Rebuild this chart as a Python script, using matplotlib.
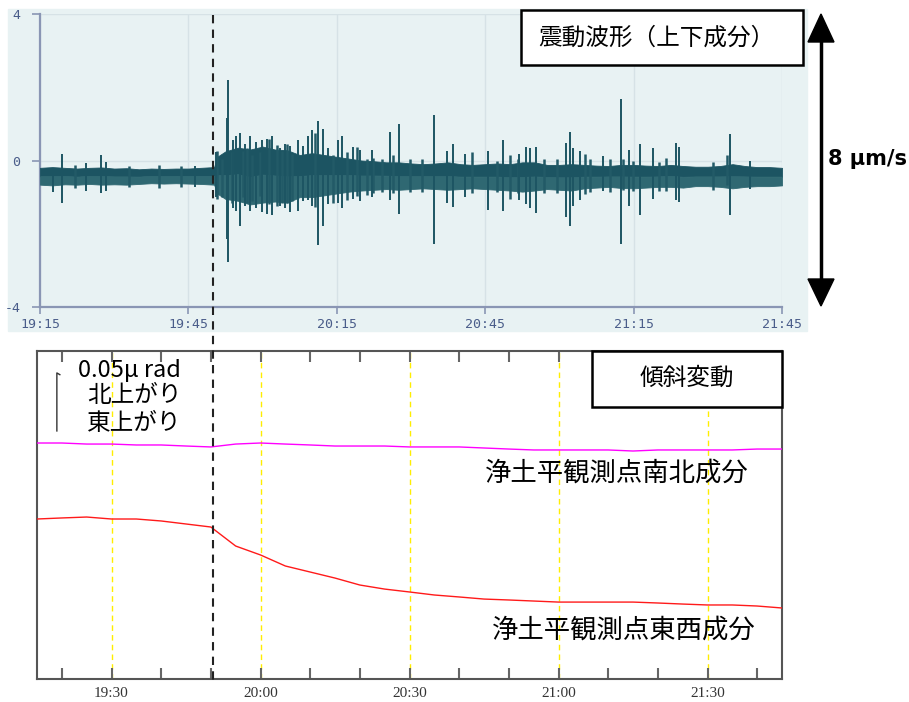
import numpy as np
import matplotlib
matplotlib.use("Agg")
import matplotlib.pyplot as plt
import matplotlib.transforms as mtransforms
from matplotlib.patches import Rectangle, Polygon
from matplotlib.lines import Line2D

plt.rcParams['font.family'] = ['Noto Sans CJK JP', 'DejaVu Sans']

# --- seismic waveform (vertical component), minutes after 19:15, units of um/s ---
wave_t = [0, 2.5, 5, 7.5, 10, 12.5, 15, 17.5, 20, 22.5, 25, 27.5, 30, 32.5, 35.2,
          35.8, 37.5, 40, 42.5, 45, 47.5, 50, 52.5, 55, 57.5, 60, 62.5, 65, 67.5,
          70, 72.5, 75, 77.5, 80, 82.5, 85, 87.5, 90, 92.5, 95, 97.5, 100, 102.5,
          105, 107.5, 110, 112.5, 115, 117.5, 120, 122.5, 125, 127.5, 130, 132.5,
          135, 137.5, 140, 142.5, 145, 147.5, 150]
wave_upper = [-0.20, -0.18, -0.20, -0.22, -0.20, -0.19, -0.22, -0.21, -0.24, -0.22,
              -0.23, -0.22, -0.22, -0.20, -0.18,
              0.10, 0.25, 0.35, 0.30, 0.38, 0.30, 0.28, 0.15, 0.20, 0.15, 0.10,
              0.05, 0.00, -0.02, -0.05, -0.05, -0.08, -0.10, -0.08, -0.05, -0.10,
              -0.12, -0.10, -0.08, -0.10, -0.05, -0.05, -0.12, -0.12, -0.10, -0.12,
              -0.14, -0.15, -0.12, -0.12, -0.14, -0.15, -0.12, -0.15, -0.17, -0.17,
              -0.15, -0.10, -0.15, -0.18, -0.18, -0.20]
wave_lower = [-0.66, -0.68, -0.65, -0.66, -0.64, -0.66, -0.65, -0.66, -0.64, -0.62,
              -0.63, -0.62, -0.63, -0.64, -0.66,
              -0.90, -1.05, -1.10, -1.20, -1.15, -1.12, -1.15, -1.00, -1.00, -0.95,
              -0.90, -0.85, -0.82, -0.80, -0.78, -0.80, -0.78, -0.76, -0.78, -0.80,
              -0.78, -0.76, -0.78, -0.80, -0.82, -0.85, -0.82, -0.78, -0.80, -0.82,
              -0.76, -0.74, -0.72, -0.75, -0.76, -0.74, -0.72, -0.72, -0.74, -0.70,
              -0.70, -0.72, -0.76, -0.72, -0.70, -0.70, -0.68]

# large isolated excursions
spike_t = [2.6, 4.4, 9.3, 12.3, 13.3, 31.3, 35.6, 37.8, 38.0, 39.0, 39.6, 40.4,
           41.4, 42.4, 43.7, 44.9, 45.9, 46.9, 48.5, 49.5, 50.5, 52.2, 53.2, 54.2,
           55.0, 56.2, 57.2, 58.2, 60.2, 61.0, 63.3, 64.7, 67.1, 70.8, 72.6, 79.6,
           82.3, 83.5, 85.9, 90.6, 93.6, 96.8, 98.2, 99.1, 100.3, 106.3, 107.1,
           107.7, 109.2, 113.8, 117.4, 119.1, 121.3, 123.9, 128.6, 129.2, 139.5,
           143.5]
spike_top = [-0.22, 0.19, -0.08, 0.16, -0.05, -0.14, 0.22, 1.17, 2.19, 0.55, 0.68,
             0.74, 0.45, 0.68, 0.50, 0.55, 0.60, 0.68, 0.33, 0.45, 0.40, 0.55, 0.40,
             0.68, 0.82, 1.09, 0.87, 0.35, 0.55, 0.66, 0.36, 0.30, 0.30, 0.79, 1.01,
             1.23, 0.27, 0.46, 0.19, 0.25, 0.57, 0.19, 0.38, 0.33, 0.36, 0.49, 0.77,
             0.33, 0.25, 0.11, 1.69, 0.30, 0.44, 0.33, 0.49, 0.38, 0.71, 0.00]
spike_bottom = [-0.87, -1.17, -0.82, -0.90, -0.82, -0.71, -1.01, -2.13, -2.76, -1.30,
                -1.37, -1.78, -1.25, -1.37, -1.30, -1.40, -1.45, -1.50, -1.23, -1.30,
                -1.40, -1.37, -1.10, -1.09, -1.23, -2.30, -1.80, -1.20, -1.17, -1.31,
                -1.04, -1.10, -1.00, -1.09, -1.45, -2.27, -1.15, -1.26, -1.01, -1.34,
                -1.37, -1.09, -1.20, -1.31, -1.42, -1.53, -1.78, -1.23, -1.09, -0.82,
                -2.27, -1.23, -1.48, -1.04, -1.09, -1.12, -1.48, -0.77]

# smaller bursts filling the busy part of the record
burst_t = [35.8, 36.8, 38.8, 41.0, 41.8, 42.8, 44.5, 46.3, 47.9, 48.9, 49.9, 50.9,
           55.6, 59.2, 62.1, 64.1, 66.1, 67.3, 69.1, 71.4, 74.8, 77.2, 87.3, 92.4,
           95.0, 96.6, 101.9, 104.5, 110.2, 111.2, 115.2, 117.9, 119.9, 125.1, 126.5,
           136.0, 138.9, 7.0, 18.0, 24.0, 28.5]
burst_top = [0.27, 0.05, 0.22, 0.27, 0.33, 0.14, 0.22, 0.60, 0.41, 0.27, 0.46, 0.19,
             0.74, 0.14, 0.22, 0.36, 0.05, 0.08, 0.05, 0.14, 0.05, 0.05, 0.22, 0.00,
             0.14, 0.05, 0.05, 0.05, 0.19, 0.05, 0.03, 0.05, 0.00, -0.03, 0.08, -0.03,
             0.14, -0.12, -0.14, -0.12, -0.15]
burst_bottom = [-1.04, -1.00, -1.17, -1.00, -1.15, -1.10, -0.96, -1.20, -1.23, -1.15,
                -1.17, -1.10, -1.28, -1.15, -1.09, -0.96, -0.95, -0.90, -0.87, -0.90,
                -0.85, -0.85, -0.90, -0.85, -1.04, -0.90, -0.90, -0.88, -0.92, -0.85,
                -0.85, -0.80, -0.82, -0.82, -0.82, -0.80, -0.68, -0.75, -0.72, -0.74,
                -0.72]

wave_ticks = [0, 30, 60, 90, 120, 150]
wave_ticklabels = ['19:15', '19:45', '20:15', '20:45', '21:15', '21:45']

# --- tilt at Jododaira station, nrad (relative) every 5 minutes from 19:15 ---
tilt_t = [0, 5, 10, 15, 20, 25, 30, 35, 40, 45, 50, 55, 60, 65, 70, 75, 80, 85,
          90, 95, 100, 105, 110, 115, 120, 125, 130, 135, 140, 145, 150]
tilt_ns = [204.3, 204.3, 203.4, 203.4, 202.6, 202.6, 201.7, 200.9, 203.4, 204.3,
           203.4, 202.6, 201.7, 201.7, 201.7, 200.9, 200.9, 200.9, 200.0, 199.1,
           198.3, 198.3, 198.3, 198.3, 197.4, 198.3, 198.3, 198.3, 198.3, 199.1,
           199.1]
tilt_ew = [138.8, 139.7, 140.5, 138.8, 138.8, 137.1, 134.5, 131.9, 115.5, 107.8,
           98.3, 93.1, 87.9, 81.9, 78.4, 75.9, 73.3, 71.6, 69.8, 69.0, 68.1, 67.2,
           67.2, 67.2, 67.2, 66.4, 65.5, 64.7, 64.7, 63.8, 62.1]

tilt_ticks = list(range(5, 150, 10))
tilt_label_at = {15: '19:30', 45: '20:00', 75: '20:30', 105: '21:00', 135: '21:30'}

scale_nrad = 50  # 0.05 urad
event_t = 35.0

W, H = 909, 702
fig = plt.figure(figsize=(W / 100, H / 100), dpi=100)


def fx(x):
    return x / W


def fy(y):
    return 1 - y / H


# panel background for the waveform
fig.patches.append(Rectangle((fx(8), fy(331)), fx(799), 322 / H,
                             transform=fig.transFigure, color='#e8f2f3', zorder=-5))

ax1 = fig.add_axes([fx(40), fy(307), fx(742), 293 / H])
ax1.set_facecolor('#e8f2f3')
ax1.set_xlim(0, 150)
ax1.set_ylim(-4, 4)

up = np.array(wave_upper)
lo = np.array(wave_lower)
mid = (up + lo) / 2
ax1.fill_between(wave_t, mid, up, color='#1c5462', lw=0.6, edgecolor='#1c5462', zorder=3)
ax1.fill_between(wave_t, lo, mid, color='#2f6872', lw=0.6, edgecolor='#2f6872', zorder=3)
ax1.vlines(burst_t, burst_bottom, burst_top, color='#225a67', lw=1.8, zorder=3.5)
ax1.vlines(spike_t, spike_bottom, spike_top, color='#1d5563', lw=1.4, zorder=4)

for s in ['top', 'right']:
    ax1.spines[s].set_visible(False)
for s in ['left', 'bottom']:
    ax1.spines[s].set_color('#8a96b4')
    ax1.spines[s].set_linewidth(1.6)
ax1.set_xticks(wave_ticks)
ax1.set_xticklabels(wave_ticklabels)
ax1.set_yticks([-4, 0, 4])
ax1.set_yticklabels(['-4', '0', '4'])
ax1.tick_params(colors='#8a96b4', labelcolor='#4a5d8a', length=5, width=1.2,
                labelsize=9.5, pad=3)
ax1.tick_params(axis='y', length=6, pad=8)
for lab in ax1.get_xticklabels() + ax1.get_yticklabels():
    lab.set_family('DejaVu Sans Mono')
ax1.grid(True, color='#d6e2e6', lw=1)
ax1.set_axisbelow(True)

# --- tilt panel ---
ax2 = fig.add_axes([fx(37), fy(679), fx(745), 328 / H])
ax2.set_xlim(0, 150)
ax2.set_ylim(0.9, 283.6)
for xv in tilt_label_at:
    ax2.axvline(xv, color='#ffee00', lw=1, ls=(0, (4, 3)), zorder=1)
ax2.plot(tilt_t, tilt_ns, color='#ff00ff', lw=1, zorder=3)
ax2.plot(tilt_t, tilt_ew, color='#ff1a1a', lw=1, zorder=3)
ax2.set_xticks(tilt_ticks)
ax2.set_xticklabels([tilt_label_at.get(t, '') for t in tilt_ticks])
ax2.set_yticks([])
ax2.tick_params(axis='x', direction='in', top=True, length=8, width=1.5,
                color='#666666', labelsize=11, pad=6, labelcolor='#333333')
for lab in ax2.get_xticklabels():
    lab.set_family('Liberation Serif')
for s in ax2.spines.values():
    s.set_color('#555555')
    s.set_linewidth(1.5)

# scale bar
bar_x = 4.0
bar_y0 = 214.7
ax2.plot([bar_x, bar_x, bar_x + 0.6],
         [bar_y0, bar_y0 + scale_nrad, bar_y0 + scale_nrad - 1.5],
         color='#333333', lw=1)
fig.text(fx(129), fy(371), '0.05μ rad', ha='center', va='center', fontsize=17)
fig.text(fx(134), fy(395), '北上がり', ha='center', va='center', fontsize=17)
fig.text(fx(134), fy(423), '東上がり', ha='center', va='center', fontsize=17)

fig.text(fx(485), fy(473), '浄土平観測点南北成分', ha='left', va='center', fontsize=19)
fig.text(fx(492), fy(630), '浄土平観測点東西成分', ha='left', va='center', fontsize=19)

# caption boxes
fig.patches.append(Rectangle((fx(521), fy(65)), fx(282), 55 / H, transform=fig.transFigure,
                             facecolor='white', edgecolor='black', lw=1.8, zorder=5))
fig.text(fx(656), fy(38), '震動波形（上下成分）', ha='center', va='center',
         fontsize=17, zorder=6)
fig.patches.append(Rectangle((fx(592), fy(407)), fx(190), 56 / H, transform=fig.transFigure,
                             facecolor='white', edgecolor='black', lw=1.8, zorder=5))
fig.text(fx(687), fy(378), '傾斜変動', ha='center', va='center', fontsize=17, zorder=6)

# amplitude scale arrow
fig.lines.append(Line2D([fx(821), fx(821)], [fy(40), fy(282)], transform=fig.transFigure,
                        color='black', lw=2.5))
fig.patches.append(Polygon([(fx(821), fy(14)), (fx(808), fy(42)), (fx(834), fy(42))],
                           closed=True, transform=fig.transFigure, color='black'))
fig.patches.append(Polygon([(fx(821), fy(306)), (fx(808), fy(279)), (fx(834), fy(279))],
                           closed=True, transform=fig.transFigure, color='black'))
fig.text(fx(828), fy(159), '8 μm/s', ha='left', va='center', fontsize=15,
         fontweight='bold', family='DejaVu Sans')

# onset line through both panels
trans = mtransforms.blended_transform_factory(ax1.transData, fig.transFigure)
fig.lines.append(Line2D([event_t, event_t], [fy(15), fy(684)], transform=trans,
                        color='#222222', lw=1.5, ls=(0, (4, 3)), zorder=10))

fig.savefig('out.png', dpi=100, facecolor='white')
